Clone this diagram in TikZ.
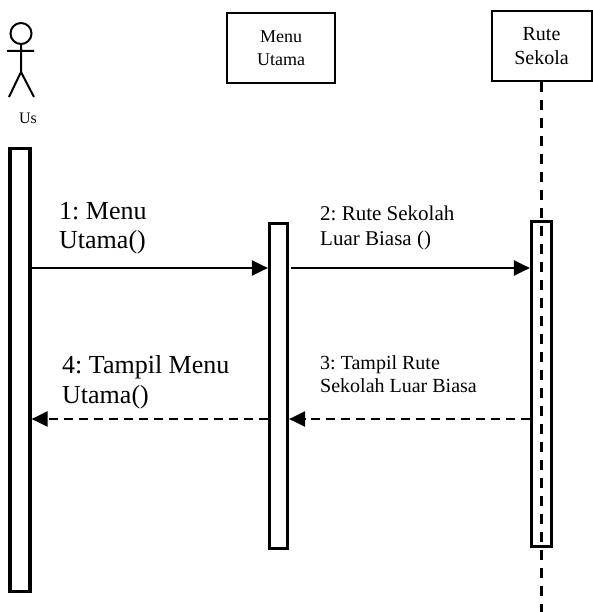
\documentclass[tikz,border=0pt]{standalone}
\usepackage{fontspec}
\setmainfont{Liberation Serif}
\usetikzlibrary{arrows.meta}
\frenchspacing

\begin{document}
\begin{tikzpicture}[x=1pt, y=-1pt,
  obj/.style={draw, line width=2pt, align=center, inner sep=0pt},
  bar/.style={draw, line width=3.2pt, minimum width=20pt, inner sep=0pt},
  call/.style={line width=2.2pt, -{Triangle[length=16pt, width=15pt]}},
  reply/.style={call, dash pattern=on 9pt off 6pt},
  life/.style={line width=2.5pt, dash pattern=on 10pt off 8pt},
  lbl/.style={align=left, inner sep=0pt, anchor=west}]
\useasboundingbox (0,0) rectangle (593,612);

\draw[line width=2pt] (21,33.5) circle[radius=10.5pt];
\draw[line width=2pt] (7,51) -- (34,51) (21,44) -- (21,72) (9,97) -- (21,72) -- (34,97);
\node[font=\fontsize{16}{19}\selectfont, inner sep=0pt] (us) at (28,118) {Us};

\node[obj, minimum width=108pt, minimum height=70pt, font=\fontsize{18}{23}\selectfont] (menu) at (281,48) {Menu\\Utama};
\node[obj, minimum width=100pt, minimum height=70pt, font=\fontsize{20}{24}\selectfont] (rute) at (541.5,46) {Rute\\Sekola};

\node[bar, minimum height=443pt] (usbar) at (20,370) {};
\node[bar, minimum width=18pt, minimum height=325pt] (menubar) at (278.5,386) {};
\node[bar, minimum height=325pt] (rutebar) at (541.5,384) {};

\coordinate (m1) at (0,268);
\coordinate (m3) at (0,419);
\coordinate (lifeend) at (541.5,612);
\draw[life] (rute.south) -- (lifeend);

\draw[call] (usbar.east |- m1) -- (menubar.west |- m1);
\draw[call, shorten <=2pt] (menubar.east |- m1) -- (rutebar.west |- m1);
\draw[reply] (rutebar.west |- m3) -- (menubar.east |- m3);
\draw[reply] (menubar.west |- m3) -- (usbar.east |- m3);

\node[lbl, font=\fontsize{26}{29}\selectfont] (l1) at (59,228.5) {1: Menu\\Utama()};
\node[lbl, font=\fontsize{21}{25}\selectfont] (l2) at (320,227.5) {2: Rute Sekolah\\Luar Biasa ()};
\node[lbl, font=\fontsize{20}{23}\selectfont] (l3) at (320,374.5) {3: Tampil Rute\\Sekolah Luar Biasa};
\node[lbl, font=\fontsize{26}{30}\selectfont] (l4) at (62,382) {4: Tampil Menu\\Utama()};
\end{tikzpicture}
\end{document}
